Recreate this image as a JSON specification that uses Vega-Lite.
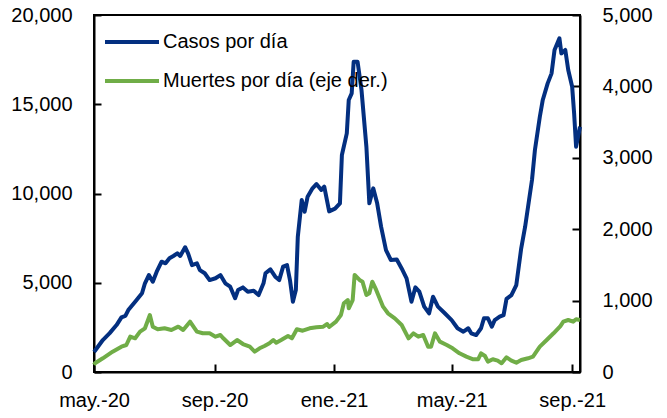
{
  "$schema": "https://vega.github.io/schema/vega-lite/v6.json",
  "width": 486,
  "height": 357,
  "autosize": "none",
  "padding": {"left": 94, "top": 15, "right": 87, "bottom": 46},
  "background": "white",
  "config": {
    "view": {"stroke": "black", "strokeWidth": 2},
    "font": "Liberation Sans, Arial, sans-serif",
    "axis": {
      "labelFont": "Liberation Sans, Arial, sans-serif",
      "labelFontSize": 20,
      "labelColor": "black",
      "domainColor": "black",
      "domainWidth": 2,
      "tickColor": "black",
      "tickWidth": 2,
      "grid": false,
      "title": null
    },
    "legend": {
      "labelFont": "Liberation Sans, Arial, sans-serif",
      "labelFontSize": 20,
      "labelColor": "black"
    }
  },
  "datasets": {
    "casos": [
      {"fecha": "2020-05-01", "valor": 1120}, {"fecha": "2020-05-02", "valor": 1190},
      {"fecha": "2020-05-10", "valor": 1790}, {"fecha": "2020-05-17", "valor": 2180},
      {"fecha": "2020-05-24", "valor": 2630}, {"fecha": "2020-05-29", "valor": 3060},
      {"fecha": "2020-06-02", "valor": 3140}, {"fecha": "2020-06-05", "valor": 3470},
      {"fecha": "2020-06-12", "valor": 3940}, {"fecha": "2020-06-19", "valor": 4410},
      {"fecha": "2020-06-22", "valor": 4970}, {"fecha": "2020-06-26", "valor": 5430},
      {"fecha": "2020-06-30", "valor": 5060}, {"fecha": "2020-07-04", "valor": 5620},
      {"fecha": "2020-07-09", "valor": 6180}, {"fecha": "2020-07-13", "valor": 6090},
      {"fecha": "2020-07-17", "valor": 6370}, {"fecha": "2020-07-21", "valor": 6500},
      {"fecha": "2020-07-25", "valor": 6650}, {"fecha": "2020-07-28", "valor": 6500},
      {"fecha": "2020-08-02", "valor": 6990}, {"fecha": "2020-08-05", "valor": 6650},
      {"fecha": "2020-08-09", "valor": 5990}, {"fecha": "2020-08-14", "valor": 6090},
      {"fecha": "2020-08-17", "valor": 5710}, {"fecha": "2020-08-22", "valor": 5530},
      {"fecha": "2020-08-27", "valor": 5150}, {"fecha": "2020-09-02", "valor": 5250},
      {"fecha": "2020-09-07", "valor": 5430}, {"fecha": "2020-09-12", "valor": 4970},
      {"fecha": "2020-09-17", "valor": 4780}, {"fecha": "2020-09-22", "valor": 4130},
      {"fecha": "2020-09-25", "valor": 4590}, {"fecha": "2020-09-30", "valor": 4740},
      {"fecha": "2020-10-05", "valor": 4500}, {"fecha": "2020-10-11", "valor": 4550},
      {"fecha": "2020-10-16", "valor": 4310}, {"fecha": "2020-10-21", "valor": 4970},
      {"fecha": "2020-10-23", "valor": 5530}, {"fecha": "2020-10-28", "valor": 5750},
      {"fecha": "2020-11-02", "valor": 5340}, {"fecha": "2020-11-06", "valor": 5150},
      {"fecha": "2020-11-10", "valor": 5900}, {"fecha": "2020-11-14", "valor": 5990},
      {"fecha": "2020-11-17", "valor": 5150}, {"fecha": "2020-11-20", "valor": 3940},
      {"fecha": "2020-11-23", "valor": 4590}, {"fecha": "2020-11-25", "valor": 7580},
      {"fecha": "2020-11-29", "valor": 9640}, {"fecha": "2020-12-02", "valor": 8980},
      {"fecha": "2020-12-05", "valor": 9820}, {"fecha": "2020-12-10", "valor": 10290},
      {"fecha": "2020-12-14", "valor": 10530}, {"fecha": "2020-12-19", "valor": 10200},
      {"fecha": "2020-12-22", "valor": 10380}, {"fecha": "2020-12-27", "valor": 9000},
      {"fecha": "2021-01-02", "valor": 9150}, {"fecha": "2021-01-07", "valor": 9450},
      {"fecha": "2021-01-09", "valor": 12160}, {"fecha": "2021-01-14", "valor": 13370},
      {"fecha": "2021-01-16", "valor": 15240}, {"fecha": "2021-01-19", "valor": 15610},
      {"fecha": "2021-01-21", "valor": 17380}, {"fecha": "2021-01-25", "valor": 17380},
      {"fecha": "2021-01-29", "valor": 15800}, {"fecha": "2021-02-03", "valor": 12620},
      {"fecha": "2021-02-06", "valor": 9450}, {"fecha": "2021-02-10", "valor": 10290},
      {"fecha": "2021-02-14", "valor": 9450}, {"fecha": "2021-02-18", "valor": 8140},
      {"fecha": "2021-02-23", "valor": 6830}, {"fecha": "2021-02-28", "valor": 6270},
      {"fecha": "2021-03-06", "valor": 6300}, {"fecha": "2021-03-11", "valor": 5800},
      {"fecha": "2021-03-16", "valor": 5250}, {"fecha": "2021-03-21", "valor": 3940},
      {"fecha": "2021-03-25", "valor": 4740}, {"fecha": "2021-03-29", "valor": 4500},
      {"fecha": "2021-04-03", "valor": 3660}, {"fecha": "2021-04-08", "valor": 3290},
      {"fecha": "2021-04-12", "valor": 4220}, {"fecha": "2021-04-17", "valor": 3660},
      {"fecha": "2021-04-24", "valor": 3290}, {"fecha": "2021-05-01", "valor": 2910},
      {"fecha": "2021-05-07", "valor": 2450}, {"fecha": "2021-05-13", "valor": 2260},
      {"fecha": "2021-05-18", "valor": 2450}, {"fecha": "2021-05-21", "valor": 2170},
      {"fecha": "2021-05-26", "valor": 2070}, {"fecha": "2021-05-31", "valor": 2450},
      {"fecha": "2021-06-03", "valor": 3010}, {"fecha": "2021-06-07", "valor": 3010},
      {"fecha": "2021-06-11", "valor": 2540}, {"fecha": "2021-06-14", "valor": 2910},
      {"fecha": "2021-06-19", "valor": 3100}, {"fecha": "2021-06-23", "valor": 3190},
      {"fecha": "2021-06-26", "valor": 4100}, {"fecha": "2021-07-01", "valor": 4310},
      {"fecha": "2021-07-06", "valor": 4870}, {"fecha": "2021-07-11", "valor": 6930},
      {"fecha": "2021-07-15", "valor": 8140}, {"fecha": "2021-07-19", "valor": 9640},
      {"fecha": "2021-07-22", "valor": 10760}, {"fecha": "2021-07-25", "valor": 12440},
      {"fecha": "2021-07-30", "valor": 14300}, {"fecha": "2021-08-02", "valor": 15240},
      {"fecha": "2021-08-07", "valor": 16170}, {"fecha": "2021-08-11", "valor": 16730},
      {"fecha": "2021-08-14", "valor": 18040}, {"fecha": "2021-08-19", "valor": 18690},
      {"fecha": "2021-08-21", "valor": 17850}, {"fecha": "2021-08-25", "valor": 18040},
      {"fecha": "2021-08-28", "valor": 16920}, {"fecha": "2021-09-01", "valor": 15980},
      {"fecha": "2021-09-03", "valor": 14490}, {"fecha": "2021-09-05", "valor": 12620},
      {"fecha": "2021-09-09", "valor": 13740}
    ],
    "muertes": [
      {"fecha": "2020-05-01", "valor": 100}, {"fecha": "2020-05-02", "valor": 122},
      {"fecha": "2020-05-10", "valor": 192}, {"fecha": "2020-05-20", "valor": 285},
      {"fecha": "2020-05-29", "valor": 355}, {"fecha": "2020-06-03", "valor": 378},
      {"fecha": "2020-06-07", "valor": 495}, {"fecha": "2020-06-12", "valor": 472},
      {"fecha": "2020-06-17", "valor": 565}, {"fecha": "2020-06-22", "valor": 612},
      {"fecha": "2020-06-27", "valor": 798}, {"fecha": "2020-06-30", "valor": 635},
      {"fecha": "2020-07-05", "valor": 598}, {"fecha": "2020-07-12", "valor": 612},
      {"fecha": "2020-07-19", "valor": 588}, {"fecha": "2020-07-26", "valor": 635},
      {"fecha": "2020-07-31", "valor": 588}, {"fecha": "2020-08-07", "valor": 705},
      {"fecha": "2020-08-14", "valor": 565}, {"fecha": "2020-08-20", "valor": 542},
      {"fecha": "2020-08-27", "valor": 542}, {"fecha": "2020-09-02", "valor": 495},
      {"fecha": "2020-09-07", "valor": 518}, {"fecha": "2020-09-10", "valor": 472},
      {"fecha": "2020-09-17", "valor": 378}, {"fecha": "2020-09-24", "valor": 448},
      {"fecha": "2020-09-30", "valor": 392}, {"fecha": "2020-10-07", "valor": 355},
      {"fecha": "2020-10-12", "valor": 285}, {"fecha": "2020-10-17", "valor": 332},
      {"fecha": "2020-10-22", "valor": 364}, {"fecha": "2020-10-27", "valor": 402},
      {"fecha": "2020-10-31", "valor": 448}, {"fecha": "2020-11-03", "valor": 410},
      {"fecha": "2020-11-08", "valor": 448}, {"fecha": "2020-11-15", "valor": 504},
      {"fecha": "2020-11-19", "valor": 472}, {"fecha": "2020-11-24", "valor": 598},
      {"fecha": "2020-11-30", "valor": 578}, {"fecha": "2020-12-07", "valor": 612},
      {"fecha": "2020-12-14", "valor": 626}, {"fecha": "2020-12-21", "valor": 635},
      {"fecha": "2020-12-25", "valor": 672}, {"fecha": "2020-12-27", "valor": 630},
      {"fecha": "2021-01-03", "valor": 705}, {"fecha": "2021-01-08", "valor": 798},
      {"fecha": "2021-01-11", "valor": 962}, {"fecha": "2021-01-15", "valor": 1008},
      {"fecha": "2021-01-16", "valor": 892}, {"fecha": "2021-01-20", "valor": 1008},
      {"fecha": "2021-01-22", "valor": 1359}, {"fecha": "2021-01-27", "valor": 1289},
      {"fecha": "2021-01-30", "valor": 1265}, {"fecha": "2021-02-03", "valor": 1079},
      {"fecha": "2021-02-06", "valor": 1102}, {"fecha": "2021-02-09", "valor": 1265},
      {"fecha": "2021-02-13", "valor": 1149}, {"fecha": "2021-02-20", "valor": 915},
      {"fecha": "2021-02-25", "valor": 822}, {"fecha": "2021-03-04", "valor": 752},
      {"fecha": "2021-03-11", "valor": 658}, {"fecha": "2021-03-18", "valor": 472},
      {"fecha": "2021-03-23", "valor": 542}, {"fecha": "2021-03-28", "valor": 495},
      {"fecha": "2021-04-02", "valor": 518}, {"fecha": "2021-04-07", "valor": 355},
      {"fecha": "2021-04-10", "valor": 355}, {"fecha": "2021-04-14", "valor": 542},
      {"fecha": "2021-04-19", "valor": 425}, {"fecha": "2021-04-26", "valor": 378},
      {"fecha": "2021-05-02", "valor": 332}, {"fecha": "2021-05-09", "valor": 262},
      {"fecha": "2021-05-16", "valor": 215}, {"fecha": "2021-05-23", "valor": 178},
      {"fecha": "2021-05-28", "valor": 178}, {"fecha": "2021-05-31", "valor": 262},
      {"fecha": "2021-06-04", "valor": 224}, {"fecha": "2021-06-07", "valor": 145},
      {"fecha": "2021-06-12", "valor": 178}, {"fecha": "2021-06-17", "valor": 159},
      {"fecha": "2021-06-21", "valor": 122}, {"fecha": "2021-06-26", "valor": 206},
      {"fecha": "2021-07-01", "valor": 159}, {"fecha": "2021-07-06", "valor": 131},
      {"fecha": "2021-07-11", "valor": 168}, {"fecha": "2021-07-18", "valor": 192},
      {"fecha": "2021-07-23", "valor": 215}, {"fecha": "2021-07-30", "valor": 355},
      {"fecha": "2021-08-06", "valor": 448}, {"fecha": "2021-08-13", "valor": 542},
      {"fecha": "2021-08-20", "valor": 644}, {"fecha": "2021-08-23", "valor": 705},
      {"fecha": "2021-08-28", "valor": 728}, {"fecha": "2021-09-02", "valor": 705},
      {"fecha": "2021-09-05", "valor": 738}, {"fecha": "2021-09-09", "valor": 728}
    ]
  },
  "encoding": {
    "x": {
      "field": "fecha",
      "type": "temporal",
      "scale": {
        "type": "utc",
        "domain": [
          {"year": 2020, "month": 5, "date": 1, "utc": true},
          {"year": 2021, "month": 9, "date": 9, "utc": true}
        ]
      },
      "axis": {
        "values": [
          {"year": 2020, "month": 5, "date": 1, "utc": true},
          {"year": 2020, "month": 9, "date": 1, "utc": true},
          {"year": 2021, "month": 1, "date": 1, "utc": true},
          {"year": 2021, "month": 5, "date": 1, "utc": true},
          {"year": 2021, "month": 9, "date": 1, "utc": true}
        ],
        "labelExpr": "['ene.','feb.','mar.','abr.','may.','jun.','jul.','ago.','sep.','oct.','nov.','dic.'][utcmonth(datum.value)] + '-' + utcFormat(datum.value, '%y')",
        "tickSize": -8,
        "labelPadding": 26,
        "labelFlush": false,
        "labelOverlap": false
      }
    }
  },
  "layer": [
    {
      "data": {"name": "casos"},
      "mark": {"type": "line", "strokeWidth": 4, "interpolate": "linear", "strokeJoin": "round"},
      "encoding": {
        "y": {
          "field": "valor",
          "type": "quantitative",
          "scale": {"domain": [0, 20000], "nice": false},
          "axis": {
            "orient": "left",
            "values": [0, 5000, 10000, 15000, 20000],
            "format": ",d",
            "tickSize": -7,
            "labelPadding": 29
          }
        },
        "color": {
          "datum": "Casos por día",
          "type": "nominal",
          "scale": {
            "domain": ["Casos por día", "Muertes por día (eje der.)"],
            "range": ["#032F80", "#70AD47"]
          },
          "legend": {
            "title": null,
            "orient": "none",
            "legendX": 9,
            "legendY": -2,
            "symbolType": "stroke",
            "symbolSize": 2916,
            "symbolStrokeWidth": 4,
            "labelOffset": 2,
            "labelLimit": 400,
            "rowPadding": -18,
            "padding": 0
          }
        }
      }
    },
    {
      "data": {"name": "muertes"},
      "mark": {"type": "line", "strokeWidth": 4, "interpolate": "linear", "strokeJoin": "round"},
      "encoding": {
        "y": {
          "field": "valor",
          "type": "quantitative",
          "scale": {"domain": [0, 5000], "nice": false},
          "axis": {
            "orient": "right",
            "values": [0, 1000, 2000, 3000, 4000, 5000],
            "format": ",d",
            "tickSize": -8,
            "labelPadding": 30
          }
        },
        "color": {"datum": "Muertes por día (eje der.)", "type": "nominal"}
      }
    }
  ],
  "resolve": {"scale": {"y": "independent"}}
}
